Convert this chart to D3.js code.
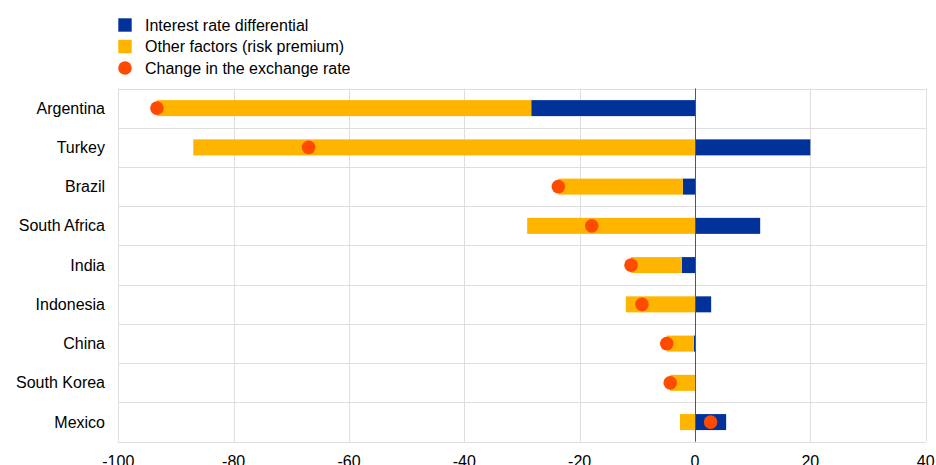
<!DOCTYPE html>
<html><head><meta charset="utf-8">
<script src="https://cdn.jsdelivr.net/npm/d3@7"></script>
<style>body{margin:0;background:#fff;font-family:"Liberation Sans",Arial,sans-serif;}</style>
</head><body><svg id="c" width="936" height="465"></svg>
<script>
const categories = ["Argentina","Turkey","Brazil","South Africa","India","Indonesia","China","South Korea","Mexico"];
const interestDiff = [-28.4, 20.0, -2.1, 11.3, -2.3, 2.8, -0.2, 0.0, 5.4];
const otherFactors = [-64.9, -87.0, -21.6, -29.1, -8.8, -12.0, -4.7, -4.3, -2.6];
const fxChange = [-93.3, -67.0, -23.7, -17.9, -11.1, -9.2, -4.9, -4.3, 2.7];
const xTicks = [-100, -80, -60, -40, -20, 0, 20, 40];
const seriesNames = ["Interest rate differential", "Other factors (risk premium)", "Change in the exchange rate"];
const colors = ["#003299", "#FFB400", "#FF4B00"];

const svg = d3.select("#c");
const L = 118.3, R = 925.7, T = 88.5, B = 441.7;
const x = d3.scaleLinear().domain([-100, 40]).range([L, R]);
const y = d3.scaleBand().domain(categories).range([T, B]).paddingInner(0).paddingOuter(0);

const table = categories.map((c, i) => ({cat: c, a: interestDiff[i], b: otherFactors[i]}));
const stack = d3.stack().keys(["a", "b"]).offset(d3.stackOffsetDiverging);
const layers = stack(table);

// grid
const g = svg.append("g");
g.selectAll("line.v").data(xTicks).join("line")
  .attr("x1", d => Math.round(x(d)) + 0.5).attr("x2", d => Math.round(x(d)) + 0.5)
  .attr("y1", T).attr("y2", B).attr("stroke", "#dedede").attr("stroke-width", 1);
const hLines = categories.map(c => y(c)).concat([B]);
g.selectAll("line.h").data(hLines).join("line")
  .attr("x1", L).attr("x2", R)
  .attr("y1", d => Math.round(d) + 0.5).attr("y2", d => Math.round(d) + 0.5)
  .attr("stroke", "#dedede").attr("stroke-width", 1);

// bars
const barH = 16;
layers.forEach((layer, li) => {
  svg.append("g").selectAll("rect").data(layer).join("rect")
    .attr("x", d => x(Math.min(d[0], d[1])))
    .attr("width", d => Math.abs(x(d[1]) - x(d[0])))
    .attr("y", d => y(d.data.cat) + y.bandwidth() / 2 - barH / 2)
    .attr("height", barH)
    .attr("fill", colors[li]);
});

// zero line
svg.append("line").attr("x1", Math.round(x(0)) + 0.5).attr("x2", Math.round(x(0)) + 0.5)
  .attr("y1", T).attr("y2", B).attr("stroke", "#555").attr("stroke-width", 1);

// dots
svg.append("g").selectAll("circle").data(fxChange).join("circle")
  .attr("cx", d => x(d)).attr("cy", (d, i) => y(categories[i]) + y.bandwidth() / 2)
  .attr("r", 6.8).attr("fill", colors[2]);

// category labels
svg.append("g").selectAll("text").data(categories).join("text")
  .attr("x", 105).attr("y", d => y(d) + y.bandwidth() / 2 + 5.5)
  .attr("text-anchor", "end").attr("font-size", 16).attr("fill", "#000").text(d => d);

// x tick labels
svg.append("g").selectAll("text").data(xTicks).join("text")
  .attr("x", d => x(d)).attr("y", 467)
  .attr("text-anchor", "middle").attr("font-size", 16).attr("fill", "#000").text(d => d);

// legend
const lg = svg.append("g");
const ly = [25, 46.5, 68];
seriesNames.forEach((n, i) => {
  if (i < 2) {
    lg.append("rect").attr("x", 118.3).attr("y", ly[i] - 6.7).attr("width", 13.4).attr("height", 13.4).attr("fill", colors[i]);
  } else {
    lg.append("circle").attr("cx", 125).attr("cy", ly[i]).attr("r", 6.8).attr("fill", colors[i]);
  }
  lg.append("text").attr("x", 145).attr("y", ly[i] + 5.5).attr("font-size", 16).attr("fill", "#000").text(n);
});
</script></body></html>
